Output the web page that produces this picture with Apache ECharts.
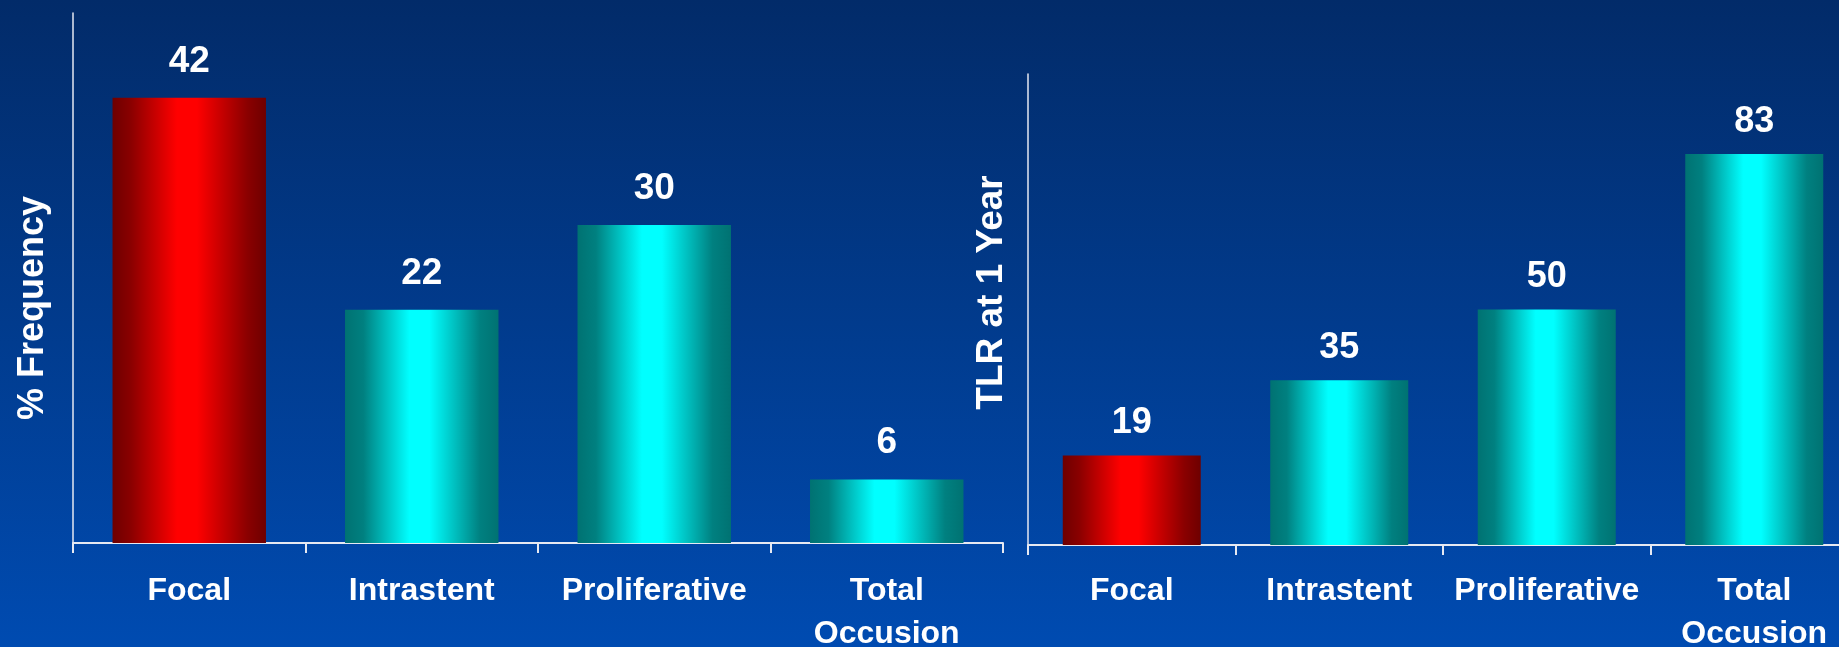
<!DOCTYPE html>
<html>
<head>
<meta charset="utf-8">
<script src="https://cdn.jsdelivr.net/npm/echarts@6/dist/echarts.min.js"></script>
<style>
html,body{margin:0;padding:0;width:1839px;height:647px;overflow:hidden;background:#013a8c;}
#chart{width:1839px;height:647px;}
</style>
</head>
<body>
<div id="chart"></div>
<script>
// ---- data ----
const categories = ['Focal', 'Intrastent', 'Proliferative', 'Total\nOccusion'];
const frequencyValues = [42, 22, 30, 6];
const tlrValues = [19, 35, 50, 83];
const leftAxisTitle = '% Frequency';
const rightAxisTitle = 'TLR at 1 Year';
const leftMax = 50;
const rightMax = 100;

// ---- styles ----
const FONT = '"Liberation Sans", Arial, sans-serif';
function barGrad(dark, mid, bright) {
  return new echarts.graphic.LinearGradient(0, 0, 1, 0, [
    {offset: 0, color: dark},
    {offset: 0.12, color: mid},
    {offset: 0.42, color: bright},
    {offset: 0.55, color: bright},
    {offset: 0.88, color: mid},
    {offset: 1, color: dark}
  ]);
}
const redGrad = barGrad('#6e0000', '#8a0000', '#ff0000');
const cyanGrad = barGrad('#007272', '#008080', '#00ffff');
function colorFor(i) { return i === 0 ? redGrad : cyanGrad; }

const chart = echarts.init(document.getElementById('chart'), null, {renderer: 'canvas'});

function xAxisFor(gridIndex, margin) {
  return {
    gridIndex: gridIndex,
    type: 'category',
    data: categories,
    axisLine: {lineStyle: {color: '#e6e9f2', width: 2}},
    axisTick: {show: true, length: 10, alignWithLabel: false, lineStyle: {color: '#e6e9f2', width: 2}},
    axisLabel: {color: '#ffffff', fontFamily: FONT, fontWeight: 'bold', fontSize: 32, lineHeight: 43, margin: margin, interval: 0}
  };
}
const yAxisCommon = {
  type: 'value',
  min: 0,
  axisLine: {show: true, lineStyle: {color: '#e6e9f2', width: 1.5}},
  axisTick: {show: false},
  axisLabel: {show: false},
  splitLine: {show: false},
  nameLocation: 'middle',
  nameRotate: 90
};

chart.setOption({
  backgroundColor: new echarts.graphic.LinearGradient(0, 0, 0, 1, [
    {offset: 0, color: '#022b69'},
    {offset: 1, color: '#004bb1'}
  ]),
  animation: false,
  grid: [
    {left: 73, top: 13, width: 930, height: 530, outerBoundsMode: 'none', containLabel: false},
    {left: 1028, top: 74, width: 830, height: 471, outerBoundsMode: 'none', containLabel: false}
  ],
  xAxis: [xAxisFor(0, 27), xAxisFor(1, 25)],
  yAxis: [
    Object.assign({gridIndex: 0, max: leftMax, name: leftAxisTitle, nameGap: 22,
      nameTextStyle: {color: '#ffffff', fontFamily: FONT, fontWeight: 'bold', fontSize: 36, padding: [0, 60, 0, 0]}}, yAxisCommon),
    Object.assign({gridIndex: 1, max: rightMax, name: rightAxisTitle, nameGap: 18,
      nameTextStyle: {color: '#ffffff', fontFamily: FONT, fontWeight: 'bold', fontSize: 37, padding: [0, 0, 0, 34]}}, yAxisCommon)
  ],
  series: [
    {
      type: 'bar', xAxisIndex: 0, yAxisIndex: 0, barWidth: '66%',
      data: frequencyValues.map((v, i) => ({value: v, itemStyle: {color: colorFor(i)}})),
      label: {show: true, position: 'top', distance: 18, color: '#ffffff', fontFamily: FONT, fontWeight: 'bold', fontSize: 37}
    },
    {
      type: 'bar', xAxisIndex: 1, yAxisIndex: 1, barWidth: '66.5%',
      data: tlrValues.map((v, i) => ({value: v, itemStyle: {color: colorFor(i)}})),
      label: {show: true, position: 'top', distance: 14, color: '#ffffff', fontFamily: FONT, fontWeight: 'bold', fontSize: 36}
    }
  ]
});
</script>
</body>
</html>
